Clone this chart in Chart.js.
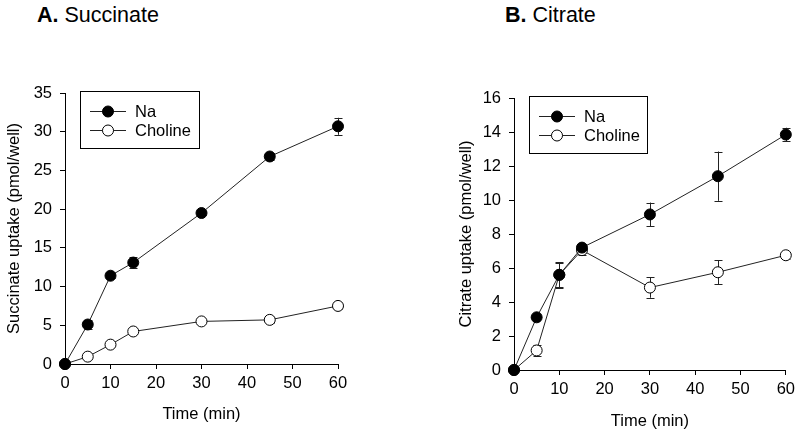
<!DOCTYPE html>
<html>
<head>
<meta charset="utf-8">
<script src="https://cdn.jsdelivr.net/npm/chart.js@4.4.0/dist/chart.umd.min.js"></script>
<style>
  body { margin: 0; background: #fff; }
  .wrap { position: relative; width: 800px; height: 434px; overflow: hidden; }
  .panel { position: absolute; top: 0; width: 400px; height: 434px; }
  .titolo { position: absolute; top: 3px; font-family: "Liberation Sans", Arial, sans-serif; font-size: 21.5px; color: #000; white-space: nowrap; }
</style>
</head>
<body>
<div class="wrap">
  <div class="titolo" style="left:37px"><b>A.</b> Succinate</div>
  <div class="titolo" style="left:505px"><b>B.</b> Citrate</div>
  <div class="panel" style="left:0"><canvas id="graficoA" width="400" height="434"></canvas></div>
  <div class="panel" style="left:400px"><canvas id="graficoB" width="400" height="434"></canvas></div>
</div>
<script>
// tempi (min)
const tempi = [0, 5, 10, 15, 30, 45, 60];

// succinato
const succNa = [0, 5.1, 11.4, 13.1, 19.5, 26.8, 30.7];
const succNaErr = [0, 0.6, 0.3, 0.7, 0.3, 0.5, 1.1];
const succCho = [0, 0.95, 2.5, 4.2, 5.5, 5.7, 7.5];
const succChoErr = [0, 0.2, 0.2, 0.2, 0.2, 0.4, 0.4];

// citrato
const citNa = [0, 3.1, 5.6, 7.2, 9.15, 11.4, 13.85];
const citNaErr = [0, 0.1, 0.7, 0.2, 0.7, 1.45, 0.4];
const citCho = [0, 1.15, 5.6, 7.05, 4.85, 5.75, 6.75];
const citChoErr = [0, 0.3, 0.75, 0.3, 0.6, 0.72, 0.2];

const legendLabels = ["Na", "Choline"];
const FONT = "Liberation Sans";
const FSIZE = 16.5;

function punti(ys) {
    return tempi.map((t, i) => ({x: t, y: ys[i]}));
}

// barre di errore disegnate sotto le linee
const errorBars = {
    id: "errorBars",
    beforeDatasetsDraw(chart) {
        const ctx = chart.ctx;
        const xs = chart.scales.x, ys = chart.scales.y;
        ctx.save();
        ctx.strokeStyle = "#222";
        ctx.lineWidth = 1;
        chart.data.datasets.forEach(ds => {
            ds.data.forEach((p, i) => {
                const e = ds.errori[i];
                if (!e) return;
                const px = Math.round(xs.getPixelForValue(p.x)) + 0.5;
                const top = ys.getPixelForValue(p.y + e);
                const bot = ys.getPixelForValue(p.y - e);
                ctx.beginPath();
                ctx.moveTo(px, top); ctx.lineTo(px, bot);
                ctx.moveTo(px - 4, Math.round(top) + 0.5); ctx.lineTo(px + 4, Math.round(top) + 0.5);
                ctx.moveTo(px - 4, Math.round(bot) + 0.5); ctx.lineTo(px + 4, Math.round(bot) + 0.5);
                ctx.stroke();
            });
        });
        ctx.restore();
    }
};

// legenda con riquadro dentro il grafico
const boxLegend = {
    id: "boxLegend",
    afterDraw(chart, args, opts) {
        const ctx = chart.ctx;
        const b = opts.box;
        ctx.save();
        ctx.strokeStyle = "#000";
        ctx.lineWidth = 1;
        ctx.strokeRect(b.x + 0.5, b.y + 0.5, b.w, b.h);
        ctx.font = FSIZE + "px '" + FONT + "'";
        ctx.textBaseline = "middle";
        chart.data.datasets.forEach((ds, i) => {
            const y = b.y + opts.rows[i];
            const x0 = b.x + 10;
            ctx.strokeStyle = "#222";
            ctx.beginPath();
            ctx.moveTo(x0, y + 0.5); ctx.lineTo(x0 + 36, y + 0.5);
            ctx.stroke();
            ctx.beginPath();
            ctx.arc(x0 + 18, y + 0.5, 5.5, 0, Math.PI * 2);
            ctx.fillStyle = ds.pointBackgroundColor;
            ctx.fill();
            ctx.strokeStyle = "#000";
            ctx.stroke();
            ctx.fillStyle = "#000";
            ctx.fillText(ds.label, x0 + 45, y + 1);
        });
        ctx.restore();
    }
};

function creaGrafico(id, na, naErr, cho, choErr, cfg) {
    const serie = [
        {label: legendLabels[0], data: punti(na), errori: naErr, bg: "#000"},
        {label: legendLabels[1], data: punti(cho), errori: choErr, bg: "#fff"}
    ];
    return new Chart(document.getElementById(id), {
        type: "line",
        data: {
            datasets: serie.map(s => ({
                label: s.label,
                data: s.data,
                errori: s.errori,
                borderColor: "#222",
                borderWidth: 1,
                pointRadius: 5.5,
                pointHoverRadius: 5.5,
                pointBorderWidth: 1,
                pointBorderColor: "#000",
                pointBackgroundColor: s.bg,
                tension: 0,
                clip: false
            }))
        },
        options: {
            responsive: false,
            animation: false,
            events: [],
            layout: {padding: {left: cfg.padLeft, right: cfg.padRight, top: cfg.padTop, bottom: 0}},
            plugins: {
                legend: {display: false},
                tooltip: {enabled: false},
                boxLegend: {box: cfg.legendBox, rows: [20, 39]}
            },
            scales: {
                x: {
                    type: "linear",
                    min: 0, max: 60,
                    ticks: {stepSize: 10, color: "#000", padding: 5, font: {family: FONT, size: FSIZE}},
                    grid: {drawOnChartArea: false, drawTicks: true, tickLength: 5, color: "#000"},
                    border: {color: "#000", width: 1},
                    title: {display: true, text: "Time (min)", color: "#000", font: {family: FONT, size: FSIZE}, padding: {top: 0, bottom: cfg.xTitleBottom}},
                    afterFit: s => { s.height = cfg.xHeight; }
                },
                y: {
                    min: 0, max: cfg.yMax,
                    ticks: {stepSize: cfg.yStep, color: "#000", padding: 8, font: {family: FONT, size: FSIZE}},
                    grid: {drawOnChartArea: false, drawTicks: true, tickLength: 5, color: "#000"},
                    border: {color: "#000", width: 1},
                    title: {display: true, text: cfg.yTitle, color: "#000", font: {family: FONT, size: FSIZE}, padding: {top: 0, bottom: 0}},
                    afterFit: s => { s.width = cfg.yWidth; }
                }
            }
        },
        plugins: [errorBars, boxLegend]
    });
}

creaGrafico("graficoA", succNa, succNaErr, succCho, succChoErr, {
    padLeft: 5, padRight: 62, padTop: 93, yWidth: 60, xHeight: 70, xTitleBottom: 10,
    yMax: 35, yStep: 5, yTitle: "Succinate uptake (pmol/well)",
    legendBox: {x: 80, y: 91, w: 119, h: 57}
});

creaGrafico("graficoB", citNa, citNaErr, citCho, citChoErr, {
    padLeft: 57, padRight: 13, padTop: 98, yWidth: 57, xHeight: 64, xTitleBottom: 3,
    yMax: 16, yStep: 2, yTitle: "Citrate uptake (pmol/well)",
    legendBox: {x: 129, y: 96, w: 118, h: 57}
});
</script>
</body>
</html>
